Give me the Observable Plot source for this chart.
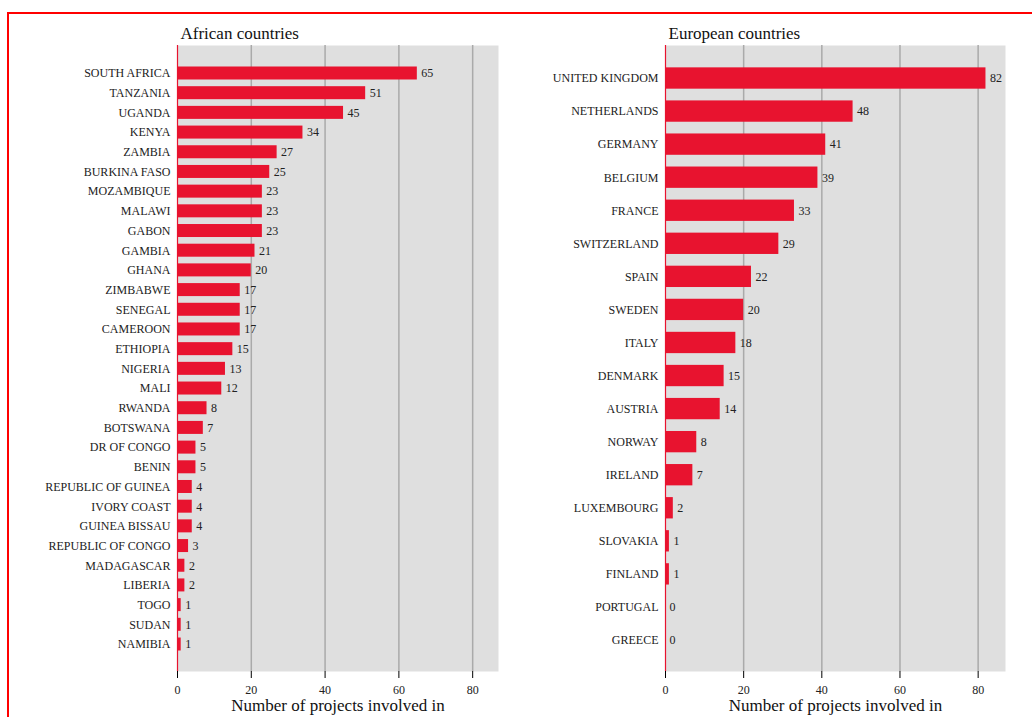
<!DOCTYPE html>
<html>
<head>
<meta charset="utf-8">
<script src="https://cdn.jsdelivr.net/npm/d3@7"></script>
<script src="https://cdn.jsdelivr.net/npm/@observablehq/plot@0.6"></script>
<style>
  html, body { margin: 0; padding: 0; background: #fff; }
  #wrap { position: relative; width: 1032px; height: 717px; overflow: hidden; font-family: "Liberation Serif", serif; }
  #border { position: absolute; left: 7px; top: 12px; width: 1100px; height: 800px; border: 2px solid #ff0000; box-sizing: border-box; }
  .panel { position: absolute; top: 0; }
  .panel svg { overflow: visible; }
  .panel svg, .panel svg text { font-family: "Liberation Serif", "Times New Roman", serif !important; }
</style>
</head>
<body>
<div id="wrap">
  <div id="border"></div>
  <div id="left" class="panel" style="left:0px"></div>
  <div id="right" class="panel" style="left:516px"></div>
</div>
<script>
const africaCountries = ["SOUTH AFRICA","TANZANIA","UGANDA","KENYA","ZAMBIA","BURKINA FASO","MOZAMBIQUE","MALAWI","GABON","GAMBIA","GHANA","ZIMBABWE","SENEGAL","CAMEROON","ETHIOPIA","NIGERIA","MALI","RWANDA","BOTSWANA","DR OF CONGO","BENIN","REPUBLIC OF GUINEA","IVORY COAST","GUINEA BISSAU","REPUBLIC OF CONGO","MADAGASCAR","LIBERIA","TOGO","SUDAN","NAMIBIA"];
const africaValues = [65,51,45,34,27,25,23,23,23,21,20,17,17,17,15,13,12,8,7,5,5,4,4,4,3,2,2,1,1,1];
const europeCountries = ["UNITED KINGDOM","NETHERLANDS","GERMANY","BELGIUM","FRANCE","SWITZERLAND","SPAIN","SWEDEN","ITALY","DENMARK","AUSTRIA","NORWAY","IRELAND","LUXEMBOURG","SLOVAKIA","FINLAND","PORTUGAL","GREECE"];
const europeValues = [82,48,41,39,33,29,22,20,18,15,14,8,7,2,1,1,0,0];
const xTicks = [0,20,40,60,80];
const gridTicks = [20,40,60,80];
const xDomain = [0, 87];
const titleAfrica = "African countries";
const titleEurope = "European countries";
const axisLabel = "Number of projects involved in";

function panel(countries, values, title, opts) {
  const data = countries.map((c, i) => ({country: c, value: values[i]}));
  return Plot.plot({
    width: 516,
    height: 717,
    marginTop: 45,
    marginBottom: 46,
    marginLeft: opts.marginLeft,
    marginRight: opts.marginRight,
    style: {fontFamily: "'Liberation Serif', serif", fontSize: "12px", color: "#222", background: "transparent"},
    x: {domain: xDomain, ticks: xTicks, label: null},
    y: {domain: countries, label: null, range: opts.yRange, paddingInner: opts.pi, paddingOuter: 0, round: false},
    marks: [
      Plot.frame({fill: "#dfdfdf", stroke: null}),
      Plot.gridX(gridTicks, {stroke: "#aaaaaa", strokeOpacity: 1, strokeWidth: 1.5}),
      Plot.barX(data, {x: "value", y: "country", fill: "#e8132f"}),
      Plot.ruleX([0], {stroke: "#e8132f", strokeWidth: 1.2}),
      Plot.text(data, {x: "value", y: "country", text: d => String(d.value), dx: 4, textAnchor: "start", fill: "#222", fontSize: 12}),
      Plot.axisX({ticks: xTicks, tickSize: 7, tickPadding: 7, label: null, stroke: "#000", fill: "#222", fontSize: 12}),
      Plot.axisY({tickSize: 0, tickPadding: 7, label: null, fill: "#222", fontSize: 12}),
      Plot.text([title], {frameAnchor: "top-left", dx: 3, dy: -7, lineAnchor: "bottom", textAnchor: "start", fontSize: 17, fill: "#111"}),
      Plot.text([axisLabel], {frameAnchor: "bottom", dy: 39, lineAnchor: "bottom", fontSize: 17, fill: "#111"})
    ]
  });
}

document.getElementById("left").append(panel(africaCountries, africaValues, titleAfrica, {marginLeft: 177, marginRight: 18, pi: 0.34, yRange: [66.5, 650.5]}));
document.getElementById("right").append(panel(europeCountries, europeValues, titleEurope, {marginLeft: 149, marginRight: 27, pi: 0.355, yRange: [67.35, 650.65]}));
</script>
</body>
</html>
